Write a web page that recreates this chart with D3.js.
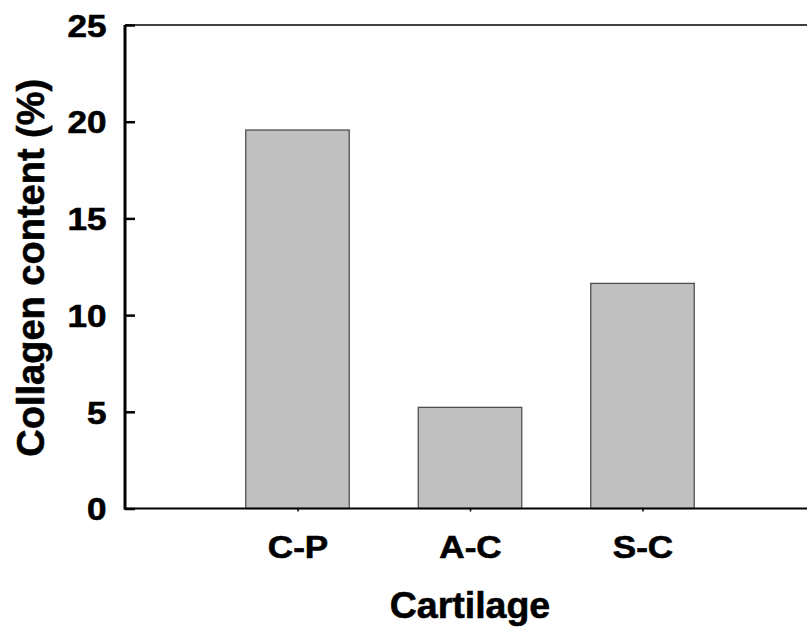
<!DOCTYPE html>
<html>
<head>
<meta charset="utf-8">
<script src="https://cdn.jsdelivr.net/npm/d3@7"></script>
<style>
  html, body { margin: 0; padding: 0; background: #fff; }
  svg { display: block; font-family: "Liberation Sans", Arial, sans-serif; font-weight: bold; }
</style>
</head>
<body>
<svg id="chart" width="807" height="630"></svg>
<script>
// Collagen content per cartilage type
const categories = ["C-P", "A-C", "S-C"];
const collagen = [19.57, 5.23, 11.64];
const yTicks = [0, 5, 10, 15, 20, 25];

const svg = d3.select("#chart");
const plotLeft = 125, plotRight = 815, plotTop = 25, plotBottom = 508.5;
const tickFont = "30.5px";
const tickStretch = 1.15;   // tick labels are drawn slightly widened

// Categories sit at positions 1..3 on a 0..4 axis
const x = d3.scaleLinear().domain([0, 4]).range([plotLeft, plotRight]);
const y = d3.scaleLinear().domain([0, 25]).range([plotBottom, plotTop]);
const barW = (x(1) - x(0)) * 0.6;

// Bars
svg.append("g").selectAll("rect")
  .data(categories)
  .join("rect")
  .attr("x", (d, i) => x(i + 1) - barW / 2)
  .attr("y", (d, i) => y(collagen[i]))
  .attr("width", barW)
  .attr("height", (d, i) => y(0) - y(collagen[i]))
  .attr("fill", "#c0c0c0")
  .attr("stroke", "#505050")
  .attr("stroke-width", 1.3);

// Frame top line
svg.append("line")
  .attr("x1", plotLeft).attr("x2", 807)
  .attr("y1", plotTop).attr("y2", plotTop)
  .attr("stroke", "#000").attr("stroke-width", 1.5);

// Y axis
const yAxis = svg.append("g")
  .attr("transform", `translate(${plotLeft},0)`)
  .call(d3.axisRight(y).tickValues(yTicks).tickSize(10).tickFormat(d3.format("d")));
yAxis.select(".domain").attr("stroke", "#000").attr("stroke-width", 3)
  .attr("d", `M0,${plotBottom + 1}V${plotTop}`);
yAxis.selectAll(".tick line").attr("stroke", "#000").attr("stroke-width", 2.5);
yAxis.selectAll(".tick text")
  .attr("x", 0).attr("dy", 0)
  .attr("transform", `translate(-18.5,11.2) scale(${tickStretch},1)`)
  .attr("text-anchor", "end")
  .attr("fill", "#000")
  .attr("stroke", "#000").attr("stroke-width", 0.6)
  .style("font-size", tickFont).style("font-weight", "bold")
  .style("font-family", "'Liberation Sans', Arial, sans-serif");

// X axis
const xAxis = svg.append("g")
  .attr("transform", `translate(0,${plotBottom})`)
  .call(d3.axisBottom(x).tickValues([1, 2, 3]).tickSize(3)
    .tickFormat(d => categories[d - 1]));
xAxis.select(".domain").attr("stroke", "#000").attr("stroke-width", 2)
  .attr("d", `M${plotLeft - 1},0H807`);
xAxis.selectAll(".tick line").attr("stroke", "#000").attr("stroke-width", 1.5);
xAxis.selectAll(".tick text")
  .attr("y", 0).attr("dy", 0)
  .attr("transform", `translate(0,49.5) scale(${tickStretch},1)`)
  .attr("fill", "#000")
  .attr("stroke", "#000").attr("stroke-width", 0.6)
  .style("font-size", tickFont).style("font-weight", "bold")
  .style("font-family", "'Liberation Sans', Arial, sans-serif");

// Axis titles
svg.append("text")
  .attr("x", 470).attr("y", 618)
  .attr("text-anchor", "middle")
  .attr("stroke", "#000").attr("stroke-width", 0.6)
  .style("font-size", "37.5px")
  .text("Cartilage");

svg.append("text")
  .attr("transform", `translate(43.5,${(plotTop + plotBottom) / 2 + 1}) rotate(-90)`)
  .attr("text-anchor", "middle")
  .attr("stroke", "#000").attr("stroke-width", 0.6)
  .style("font-size", "38px")
  .text("Collagen content (%)");
</script>
</body>
</html>
